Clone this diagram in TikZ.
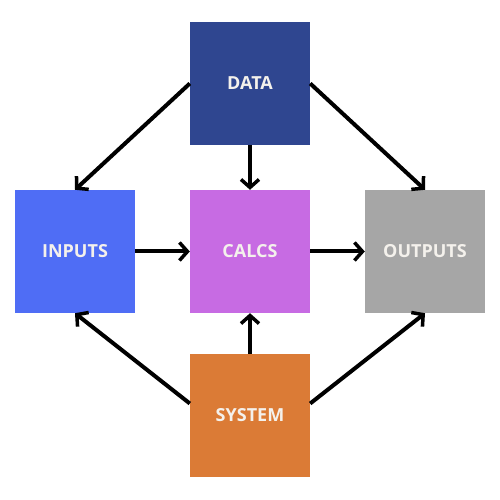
\documentclass[tikz,border=0pt]{standalone}
\usepackage{fontspec}
\setmainfont{Open Sans}
\usepackage{tikz}
\usetikzlibrary{arrows.meta}
\usepackage{xcolor}

\definecolor{dataBlue}{HTML}{2F4690}
\definecolor{inputBlue}{HTML}{4F6DF5}
\definecolor{calcPink}{HTML}{C76BE3}
\definecolor{outputGray}{HTML}{A6A6A6}
\definecolor{systemOrange}{HTML}{DB7B36}
\definecolor{labelWhite}{HTML}{F4F1EC}

\tikzset{
  block/.style={minimum width=120pt,minimum height=123pt,inner sep=0pt,
    text=labelWhite,font=\fontsize{18}{21}\selectfont\bfseries},
  link/.style={line width=4pt,-{Straight Barb[length=8pt,width=18pt,line width=3.5pt]}}
}

\begin{document}
\begin{tikzpicture}[x=1pt,y=1pt]
        \useasboundingbox (0,0) rectangle (500,500);

        %------------------
        % ブロック
        %------------------
        \node[block,fill=dataBlue] (data) at (250,416.5) {DATA};
        \node[block,fill=inputBlue] (inputs) at (75,248.5) {INPUTS};
        \node[block,fill=calcPink] (calcs) at (250,248.5) {CALCS};
        \node[block,fill=outputGray] (outputs) at (425,248.5) {OUTPUTS};
        \node[block,fill=systemOrange] (system) at (250,84.5) {SYSTEM};

        %------------------
        % 矢印
        %------------------
        \draw[link] (data.west) -- (inputs.north);
        \draw[link] (data.south) -- (calcs.north);
        \draw[link] (data.east) -- (outputs.north);
        \draw[link] (inputs.east) -- (calcs.west);
        \draw[link] (calcs.east) -- (outputs.west);
        \draw[link] (system.north) -- (calcs.south);
        \draw[link] ([yshift=12pt]system.west) -- (inputs.south);
        \draw[link] ([yshift=12pt]system.east) -- (outputs.south);
      \end{tikzpicture}
\end{document}
